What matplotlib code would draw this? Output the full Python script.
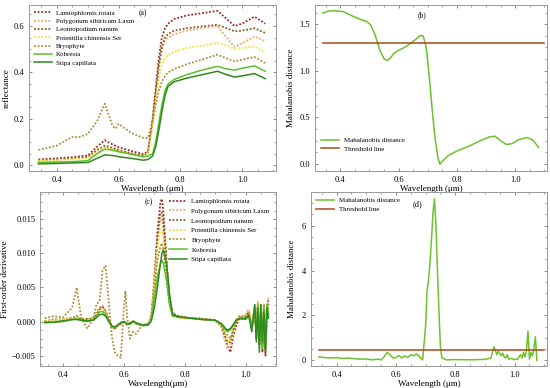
import numpy as np
import matplotlib
matplotlib.use("Agg")
import matplotlib.pyplot as plt
from matplotlib.ticker import MultipleLocator

plt.rcParams['font.family'] = ['Liberation Serif', 'DejaVu Serif']

# ---- (a) reflectance spectra ----
wl_a = [0.34, 0.40, 0.45, 0.47, 0.50, 0.53, 0.555, 0.58, 0.59, 0.60, 0.64, 0.68, 0.695,
        0.71, 0.72, 0.73, 0.74, 0.75, 0.76, 0.78, 0.82, 0.87, 0.92, 0.95, 0.975, 1.00, 1.04, 1.075]
refl_lamio = [0.025, 0.03, 0.035, 0.038, 0.042, 0.08, 0.108, 0.09, 0.084, 0.078, 0.062, 0.048, 0.06,
              0.2, 0.33, 0.46, 0.55, 0.59, 0.61, 0.63, 0.645, 0.655, 0.665, 0.63, 0.60, 0.61, 0.64, 0.61]
refl_polyg = [0.02, 0.024, 0.028, 0.03, 0.033, 0.062, 0.08, 0.072, 0.068, 0.064, 0.05, 0.04, 0.052,
              0.18, 0.3, 0.42, 0.5, 0.54, 0.55, 0.565, 0.58, 0.59, 0.60, 0.55, 0.51, 0.525, 0.555, 0.535]
refl_leont = [0.02, 0.025, 0.03, 0.032, 0.035, 0.065, 0.085, 0.075, 0.07, 0.065, 0.052, 0.04, 0.055,
              0.19, 0.31, 0.43, 0.51, 0.55, 0.565, 0.58, 0.59, 0.598, 0.605, 0.59, 0.577, 0.58, 0.59, 0.57]
refl_poten = [0.018, 0.022, 0.026, 0.028, 0.03, 0.058, 0.075, 0.068, 0.064, 0.06, 0.048, 0.038, 0.05,
              0.17, 0.28, 0.37, 0.43, 0.46, 0.475, 0.49, 0.505, 0.515, 0.527, 0.515, 0.50, 0.505, 0.512, 0.484]
refl_bryo = [0.066, 0.085, 0.123, 0.12, 0.135, 0.19, 0.265, 0.17, 0.158, 0.178, 0.14, 0.118, 0.118,
             0.19, 0.26, 0.32, 0.36, 0.385, 0.40, 0.415, 0.435, 0.455, 0.476, 0.46, 0.448, 0.455, 0.466, 0.44]
refl_kobr = [0.012, 0.014, 0.016, 0.017, 0.02, 0.05, 0.07, 0.065, 0.062, 0.058, 0.048, 0.036, 0.04,
             0.05, 0.1, 0.18, 0.26, 0.32, 0.35, 0.37, 0.39, 0.41, 0.426, 0.415, 0.41, 0.418, 0.428, 0.405]
refl_stipa = [0.006, 0.008, 0.01, 0.011, 0.012, 0.03, 0.045, 0.042, 0.04, 0.037, 0.03, 0.022, 0.025,
              0.04, 0.08, 0.15, 0.23, 0.30, 0.34, 0.36, 0.375, 0.39, 0.405, 0.39, 0.38, 0.385, 0.395, 0.373]

# ---- (b) Mahalanobis distance of reflectance ----
wl_b = [0.34, 0.36, 0.38, 0.41, 0.44, 0.47, 0.49, 0.505, 0.52, 0.535, 0.55, 0.56, 0.57, 0.585,
        0.60, 0.62, 0.64, 0.66, 0.675, 0.685, 0.695, 0.705, 0.715, 0.725, 0.735, 0.742, 0.75,
        0.77, 0.80, 0.84, 0.88, 0.91, 0.93, 0.95, 0.97, 0.99, 1.01, 1.04, 1.06, 1.08]
md_b = [1.62, 1.64, 1.645, 1.635, 1.59, 1.55, 1.53, 1.49, 1.38, 1.23, 1.13, 1.11, 1.13, 1.19,
        1.22, 1.25, 1.29, 1.34, 1.38, 1.37, 1.25, 0.95, 0.6, 0.28, 0.07, 0.0, 0.03,
        0.09, 0.14, 0.19, 0.25, 0.29, 0.30, 0.25, 0.21, 0.22, 0.26, 0.285, 0.26, 0.18]
thr_b = 1.3

# ---- (c) first-order derivative (x 1e-3) ----
wl_c = [0.34, 0.37, 0.40, 0.43, 0.445, 0.46, 0.48, 0.50, 0.51, 0.52, 0.53, 0.54, 0.55, 0.56,
        0.57, 0.58, 0.59, 0.60, 0.605, 0.61, 0.62, 0.63, 0.64, 0.66, 0.68, 0.69, 0.70, 0.71,
        0.72, 0.725, 0.73, 0.74, 0.75, 0.76, 0.78, 0.82, 0.86, 0.90, 0.92, 0.93, 0.94, 0.95,
        0.96, 0.97, 0.98, 1.00, 1.01, 1.02, 1.03, 1.035, 1.04, 1.045, 1.05, 1.055, 1.06, 1.065,
        1.07, 1.075]
d_lamio = [0.0, 0.2, 0.3, 0.5, 0.6, 0.4, 0.3, 0.5, 1.2, 2.0, 2.2, 1.5, 0.3, -0.8,
           -1.0, -0.6, -0.3, -0.2, -0.1, -0.4, -0.3, 0.0, -0.3, -0.6, -0.4, 0.5, 6.0, 13.0,
           17.5, 18.0, 16.0, 9.0, 3.5, 1.2, 0.8, 0.5, 0.4, 0.2, -0.5, -2.0, -3.5, -4.5,
           -2.0, -0.5, 0.5, 0.8, 1.5, -1.0, 2.0, -2.5, 2.5, -3.5, 1.5, -4.5, 2.0, -5.0,
           1.5, 3.0]
d_polyg = [0.1, 0.3, 0.4, 0.6, 0.7, 0.5, 0.2, 0.6, 1.3, 2.1, 2.3, 1.6, 0.2, -0.9,
           -1.1, -0.7, -0.2, -0.1, -0.2, -0.5, -0.2, 0.1, -0.2, -0.5, -0.3, 0.8, 6.5, 12.0,
           15.0, 15.0, 13.5, 8.0, 3.0, 1.0, 0.7, 0.5, 0.4, 0.2, -0.8, -2.5, -4.0, -3.5,
           -1.5, 0.0, 0.8, 1.0, 1.8, -0.5, 2.5, -2.0, 3.0, -3.0, 2.0, -3.5, 2.5, -4.0,
           2.0, 3.5]
d_leont = [0.0, 0.3, 0.2, 0.5, 0.8, 0.3, 0.4, 0.4, 1.0, 1.8, 2.1, 1.4, 0.2, -0.7,
           -1.0, -0.5, -0.3, -0.1, -0.2, -0.4, -0.2, 0.0, -0.3, -0.5, -0.4, 0.6, 5.5, 12.5,
           16.0, 16.0, 14.5, 8.5, 3.2, 1.1, 0.7, 0.5, 0.3, 0.2, -0.6, -1.8, -3.0, -3.0,
           -1.2, 0.2, 0.6, 0.6, 1.2, -0.8, 1.8, -2.0, 2.2, -2.8, 1.2, -3.5, 1.8, -4.0,
           1.2, 2.5]
d_poten = [0.1, 0.2, 0.3, 0.4, 0.6, 0.5, 0.3, 0.5, 1.1, 1.7, 1.9, 1.3, 0.1, -0.8,
           -0.9, -0.6, -0.2, -0.2, -0.3, -0.4, -0.3, 0.1, -0.2, -0.6, -0.4, 0.5, 5.0, 10.5,
           13.5, 13.5, 12.5, 7.5, 3.0, 1.0, 0.6, 0.4, 0.3, 0.2, -0.5, -1.5, -2.5, -3.0,
           -1.5, 0.0, 0.5, 0.8, 1.5, -0.8, 2.0, -1.5, 2.5, -2.5, 1.8, -3.0, 2.2, -3.0,
           2.5, 2.0]
d_bryo = [0.5, 0.8, 0.6, 2.0, 5.0, 0.5, -1.0, 0.5, 2.5, 3.0, 7.5, 8.2, 3.0, -2.0,
          -4.5, -5.0, -5.3, 2.0, 4.5, 1.0, -2.5, -1.5, -1.8, -0.5, -0.3, 0.5, 4.5, 9.0,
          11.0, 11.5, 10.5, 6.5, 2.5, 1.0, 0.6, 0.5, 0.4, 0.2, -0.5, -1.5, -2.0, -2.5,
          -1.0, 0.0, 0.8, 0.5, 1.0, -0.5, 1.5, -1.5, 2.0, -2.5, 1.0, -3.0, 2.5, -3.5,
          2.0, 3.5]
d_kobr = [-0.2, -0.1, 0.0, 0.3, 0.4, 0.2, 0.0, 0.3, 0.8, 1.4, 1.5, 1.0, 0.0, -0.7,
          -0.9, -0.5, -0.1, 0.0, -0.2, -0.3, -0.4, 0.1, -0.2, -0.6, -0.5, 0.2, 3.5, 6.5,
          8.5, 9.0, 8.5, 6.0, 2.5, 0.8, 0.7, 0.5, 0.3, 0.2, -0.3, -1.0, -1.5, -1.2,
          -0.5, 0.2, 0.5, 0.3, 0.8, -1.0, 2.0, -2.5, 2.5, -3.0, 2.5, -4.0, 2.0, -3.5,
          2.5, 1.0]
d_stipa = [-0.1, -0.1, 0.1, 0.3, 0.3, 0.2, 0.1, 0.2, 0.6, 1.0, 1.1, 0.8, 0.1, -0.6,
           -0.8, -0.5, -0.2, 0.0, -0.1, -0.3, -0.3, 0.0, -0.2, -0.5, -0.5, 0.1, 2.0, 5.0,
           8.5, 10.0, 10.5, 8.5, 4.0, 1.0, 0.7, 0.5, 0.3, 0.2, -0.3, -0.8, -1.3, -1.0,
           -0.4, 0.3, 0.4, 0.4, 1.0, -1.5, 2.5, -3.0, 2.0, -4.5, 2.5, -3.0, 1.5, -4.5,
           2.0, 0.5]

# ---- (d) Mahalanobis distance of derivative ----
wl_d = [0.34, 0.36, 0.38, 0.40, 0.42, 0.44, 0.46, 0.48, 0.50, 0.52, 0.54, 0.55, 0.56, 0.57,
        0.58, 0.59, 0.60, 0.61, 0.62, 0.63, 0.64, 0.65, 0.66, 0.67, 0.68, 0.69, 0.70, 0.705,
        0.71, 0.715, 0.72, 0.725, 0.73, 0.735, 0.74, 0.745, 0.75, 0.755, 0.77, 0.80, 0.85,
        0.90, 0.92, 0.93, 0.935, 0.94, 0.945, 0.95, 0.955, 0.96, 0.965, 0.97, 0.975, 0.98,
        0.99, 1.00, 1.01, 1.02, 1.025, 1.03, 1.035, 1.04, 1.045, 1.05, 1.055, 1.06, 1.065,
        1.07, 1.075]
md_d = [0.15, 0.12, 0.10, 0.12, 0.08, 0.10, 0.07, 0.05, 0.06, 0.02, 0.05, 0.02, 0.15, 0.35,
        0.25, 0.10, 0.12, 0.22, 0.10, 0.20, 0.12, 0.25, 0.20, 0.28, 0.15, 0.02, 1.50, 3.10,
        3.60, 4.40, 5.40, 6.60, 7.20, 6.00, 4.00, 2.20, 0.60, 0.10, 0.02, 0.03, 0.02,
        0.04, 0.10, 0.60, 0.45, 0.25, 0.40, 0.30, 0.20, 0.32, 0.15, 0.10, 0.25, 0.05,
        0.08, 0.03, 0.05, 0.25, 0.10, 0.35, 0.15, 0.45, 1.30, 0.05, 0.35, 0.20, 0.50,
        1.05, 0.00]
thr_d = 0.45

species = ['Lamiophlomis rotata', 'Polygonum sibiricum Laxm', 'Leontopodium nanum',
           'Potentilla chinensis Ser', 'Bryophyte', 'Kobresia', 'Stipa capillata']
colors = ['#9B2A22', '#F2A66A', '#80601E', '#EEE23A', '#A89038', '#5CBF2A', '#2E8A1E']
dotted = (0, (1, 1))
styles = [dotted] * 5 + ['-', '-']
widths = [1.3] * 5 + [1.1, 1.1]

refl = [refl_lamio, refl_polyg, refl_leont, refl_poten, refl_bryo, refl_kobr, refl_stipa]
deriv = [d_lamio, d_polyg, d_leont, d_poten, d_bryo, d_kobr, d_stipa]

fig = plt.figure(figsize=(5.5, 3.88), dpi=100)
ax_a = fig.add_axes([0.053, 0.559, 0.449, 0.428])
ax_b = fig.add_axes([0.573, 0.559, 0.422, 0.428])
ax_c = fig.add_axes([0.073, 0.057, 0.429, 0.448])
ax_d = fig.add_axes([0.565, 0.057, 0.430, 0.448])

fs = 6


def style_axis(ax):
    for sp in ax.spines.values():
        sp.set_color('#999999')
        sp.set_linewidth(0.7)
    ax.tick_params(which='both', direction='in', top=True, right=True,
                   colors='#777777', labelcolor='black', labelsize=fs)
    ax.tick_params(which='major', length=2.5, width=0.6)
    ax.tick_params(which='minor', length=1.5, width=0.5)
    ax.xaxis.set_major_locator(MultipleLocator(0.2))
    ax.xaxis.set_minor_locator(MultipleLocator(0.05))


# (a)
for vals, c, ls, w, name in zip(refl, colors, styles, widths, species):
    ax_a.plot(wl_a, vals, color=c, linestyle=ls, lw=w, label=name)
ax_a.set_xlim(0.31, 1.11)
ax_a.set_ylim(-0.025, 0.69)
style_axis(ax_a)
ax_a.yaxis.set_major_locator(MultipleLocator(0.2))
ax_a.yaxis.set_minor_locator(MultipleLocator(0.05))
ax_a.set_xlabel('Wavelength (μm)', fontsize=6.5, labelpad=1)
ax_a.set_ylabel('reflectance', fontsize=6.5, labelpad=2)
ax_a.text(0.46, 0.95, '(a)', transform=ax_a.transAxes, fontsize=5.5, ha='center', va='center')
ax_a.legend(loc='upper left', fontsize=5, frameon=False, handlelength=2.6,
            labelspacing=0.35, borderaxespad=0.3, handletextpad=0.6)

# (b)
ax_b.plot(wl_b, md_b, color='#6CC22C', lw=1.1, label='Mahalanobis distance')
ax_b.axhline(thr_b, xmin=0.035, xmax=0.985, color='#A8461E', lw=1.1, label='Threshold line')
ax_b.set_xlim(0.314, 1.11)
ax_b.set_ylim(-0.075, 1.705)
style_axis(ax_b)
ax_b.yaxis.set_major_locator(MultipleLocator(0.5))
ax_b.yaxis.set_minor_locator(MultipleLocator(0.125))
ax_b.set_xlabel('Wavelength (μm)', fontsize=6.5, labelpad=1)
ax_b.set_ylabel('Mahalanobis distance', fontsize=6.5, labelpad=3)
ax_b.text(0.46, 0.94, '(b)', transform=ax_b.transAxes, fontsize=5.5, ha='center', va='center')
ax_b.legend(loc='lower left', bbox_to_anchor=(0.0, 0.08), fontsize=5, frameon=False,
            handlelength=2.6, labelspacing=0.35, handletextpad=0.6)

# (c)
for vals, c, ls, w, name in zip(deriv, colors, styles, widths, species):
    ax_c.plot(wl_c, np.array(vals) * 1e-3, color=c, linestyle=ls, lw=w, label=name)
ax_c.set_xlim(0.325, 1.10)
ax_c.set_ylim(-0.0065, 0.019)
style_axis(ax_c)
ax_c.yaxis.set_major_locator(MultipleLocator(0.005))
ax_c.yaxis.set_minor_locator(MultipleLocator(0.00125))
ax_c.set_xlabel('Wavelength(μm)', fontsize=6.5, labelpad=1)
ax_c.set_ylabel('First-order derivative', fontsize=6.5, labelpad=2)
ax_c.text(0.46, 0.94, '(c)', transform=ax_c.transAxes, fontsize=5.5, ha='center', va='center')
ax_c.legend(loc='upper right', fontsize=5, frameon=False, handlelength=2.6,
            labelspacing=0.55, borderaxespad=0.5, handletextpad=0.6)

# (d)
ax_d.plot(wl_d, md_d, color='#6CC22C', lw=1.1, label='Mahalanobis distance')
ax_d.axhline(thr_d, xmin=0.035, xmax=0.985, color='#A8461E', lw=1.1, label='Threshold line')
ax_d.set_xlim(0.313, 1.11)
ax_d.set_ylim(-0.25, 7.5)
style_axis(ax_d)
ax_d.yaxis.set_major_locator(MultipleLocator(2))
ax_d.yaxis.set_minor_locator(MultipleLocator(0.5))
ax_d.set_xlabel('Wavelength (μm)', fontsize=6.5, labelpad=1)
ax_d.set_ylabel('Mahalanobis distance', fontsize=6.5, labelpad=4)
ax_d.text(0.45, 0.93, '(d)', transform=ax_d.transAxes, fontsize=6, ha='center', va='center')
ax_d.legend(loc='upper left', fontsize=5, frameon=False, handlelength=2.6,
            labelspacing=0.45, borderaxespad=0.4, handletextpad=0.6)

fig.savefig('out.png', dpi=100)
